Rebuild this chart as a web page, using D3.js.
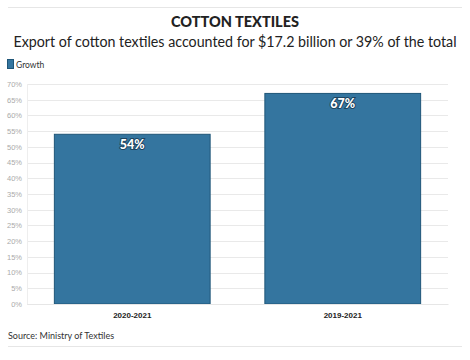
<!DOCTYPE html>
<html><head><meta charset="utf-8">
<script src="https://cdn.jsdelivr.net/npm/d3@7"></script>
<style>body{margin:0;background:#fff;}svg{display:block;font-family:"Source Sans Pro",Lato,"Noto Sans",sans-serif;}</style>
</head><body>
<svg id="c" width="470" height="360"></svg>
<script>
const categories = ["2020-2021", "2019-2021"];
const growth = [54, 67];
const yTicks = [0,5,10,15,20,25,30,35,40,45,50,55,60,65,70];
const title = "COTTON TEXTILES";
const subtitle = "Export of cotton textiles accounted for $17.2 billion or 39% of the total";
const source = "Source: Ministry of Textiles";
const seriesName = "Growth";

const svg = d3.select("#c");
const color = "#34759f", stroke = "#1f5678";

svg.append("line").attr("x1",8).attr("x2",462).attr("y1",7.5).attr("y2",7.5).attr("stroke","#e6e6e6");
svg.append("line").attr("x1",8).attr("x2",462).attr("y1",346.5).attr("y2",346.5).attr("stroke","#e6e6e6");

svg.append("text").attr("x",235).attr("y",27).attr("text-anchor","middle")
  .attr("font-size",14.5).attr("font-weight",900).attr("fill","#222").text(title);
svg.append("text").attr("x",235).attr("y",46.5).attr("text-anchor","middle")
  .attr("font-size",14.5).attr("fill","#222")
  .attr("textLength",443).attr("lengthAdjust","spacingAndGlyphs").text(subtitle);

svg.append("rect").attr("x",7.5).attr("y",59.5).attr("width",6).attr("height",9).attr("fill",color).attr("stroke",stroke);
svg.append("text").attr("x",16).attr("y",67.5).attr("font-size",8.5).attr("fill","#333").text(seriesName);

const x = d3.scaleBand().domain(categories).range([27,448]).paddingInner(0.26).paddingOuter(0.13);
const y = d3.scaleLinear().domain([0,70]).range([304,84]);

const g = svg.append("g");
g.selectAll(".grid").data(yTicks).join("line")
  .attr("x1",27).attr("x2",448).attr("y1",d=>Math.round(y(d))+0.5).attr("y2",d=>Math.round(y(d))+0.5)
  .attr("stroke","#e9e9e9");
g.append("line").attr("x1",27.5).attr("x2",27.5).attr("y1",84).attr("y2",304).attr("stroke","#eeeeee");

const yAxis = svg.append("g").attr("transform","translate(27,0)")
  .call(d3.axisLeft(y).tickValues(yTicks).tickFormat(d=>d+"%").tickSize(0).tickPadding(5));
yAxis.select(".domain").remove();
yAxis.selectAll("text").attr("font-size",7.5).attr("fill","#aaa").attr("font-family",null);

svg.selectAll(".bar").data(growth).join("rect")
  .attr("x",(d,i)=>x(categories[i])).attr("width",x.bandwidth())
  .attr("y",d=>y(d)).attr("height",d=>y(0)-y(d))
  .attr("fill",color).attr("stroke",stroke).attr("stroke-width",1);

svg.selectAll(".lbl").data(growth).join("text")
  .attr("x",(d,i)=>x(categories[i])+x.bandwidth()/2).attr("y",d=>y(d)+15)
  .attr("text-anchor","middle").attr("font-size",12.5).attr("font-weight",900)
  .attr("fill","#fff").attr("stroke","#1d4460").attr("stroke-width",2).attr("paint-order","stroke")
  .text(d=>d+"%");

const xAxis = svg.append("g").attr("transform","translate(0,304)")
  .call(d3.axisBottom(x).tickSize(0).tickPadding(8));
xAxis.select(".domain").attr("stroke","#e6e6e6");
xAxis.selectAll("text").attr("font-size",8).attr("font-weight",700).attr("fill","#222").attr("font-family",null);

svg.append("text").attr("x",8).attr("y",339).attr("font-size",9).attr("fill","#333").text(source);
</script>
</body></html>
